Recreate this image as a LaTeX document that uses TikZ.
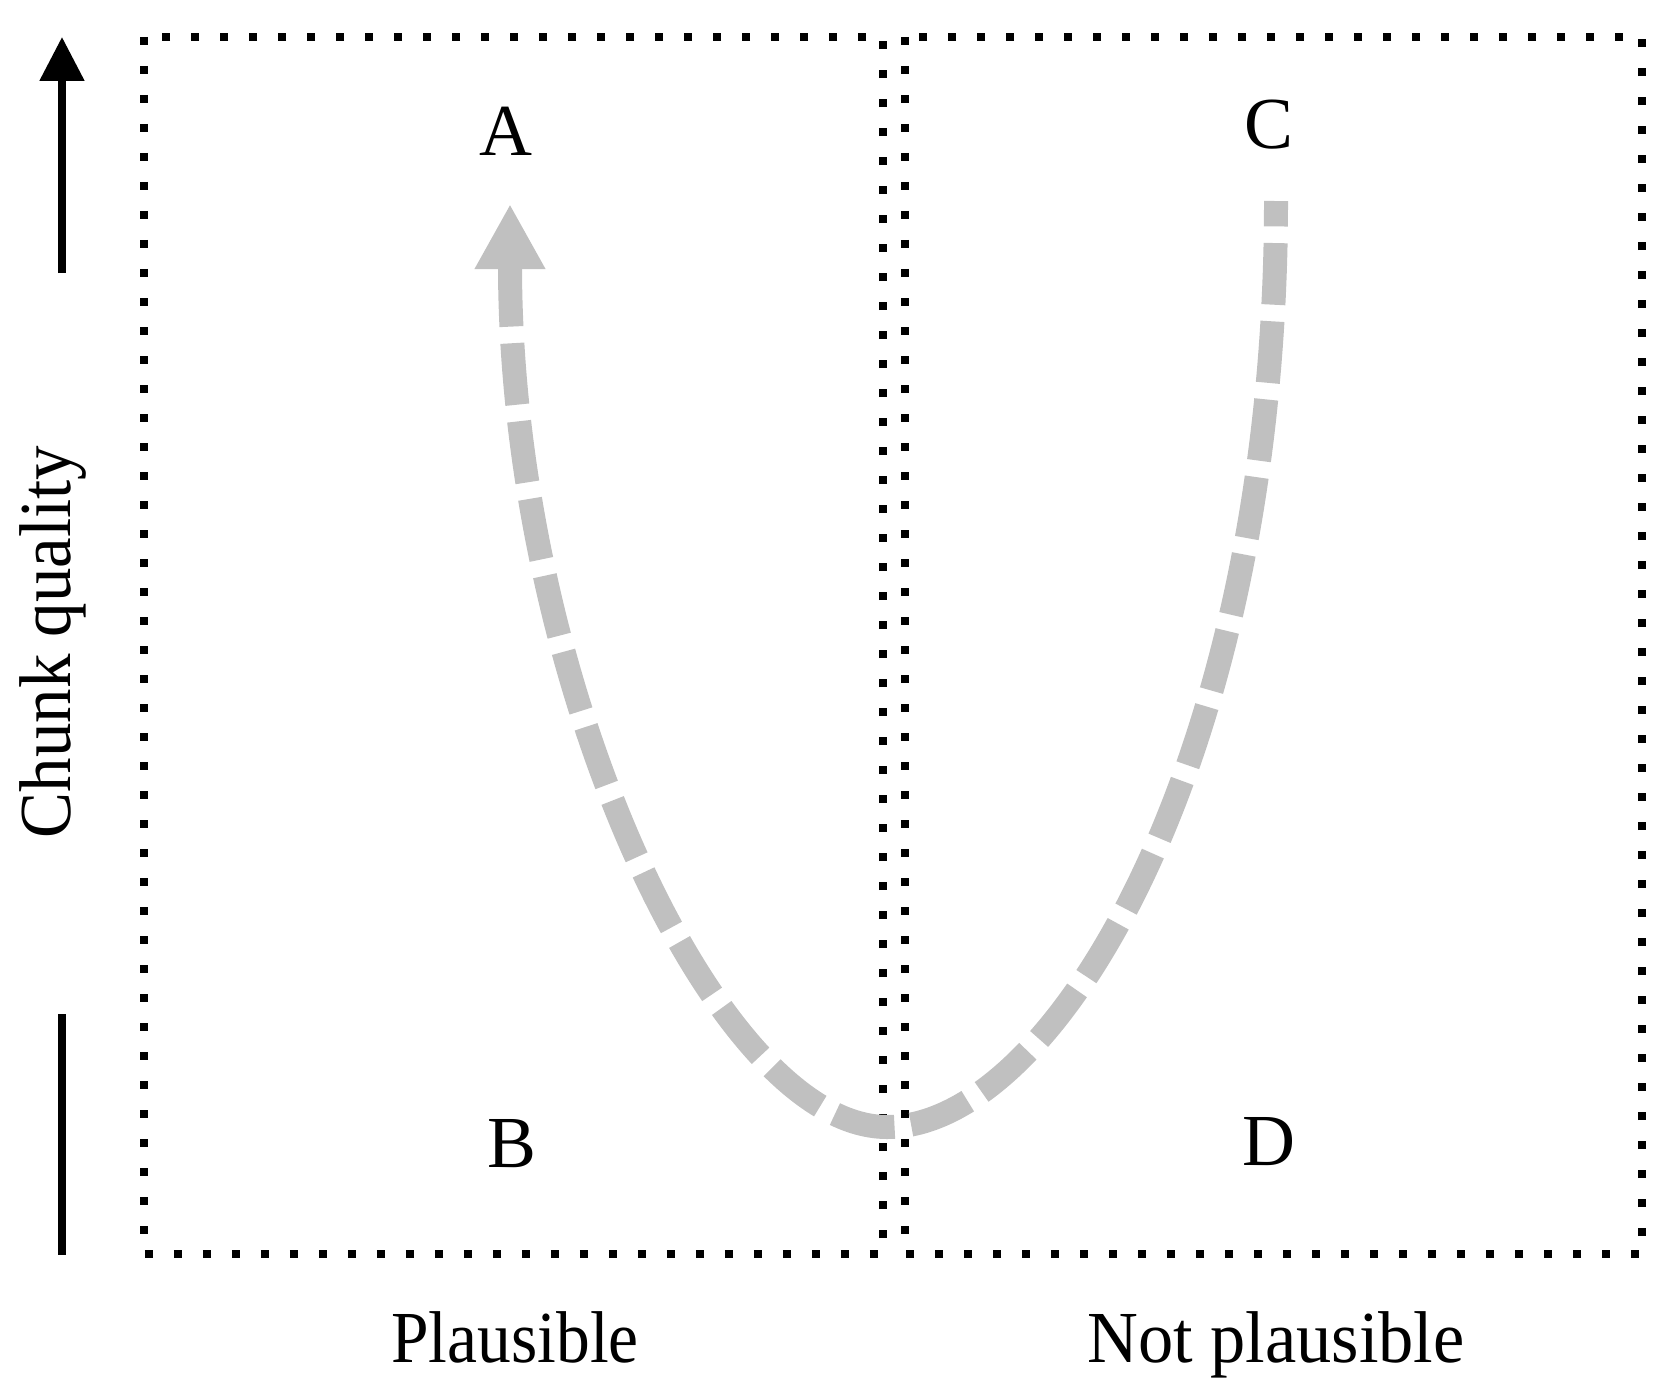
\documentclass[tikz,border=0pt]{standalone}
\usepackage{fontspec}
\setmainfont{Liberation Serif}
\usetikzlibrary{arrows.meta}
\definecolor{curvegray}{RGB}{192,192,192}
\begin{document}
\begin{tikzpicture}[x=0.6pt,y=-0.6pt,
  dotbox/.style={line width=4.8pt, dash pattern=on 4.8pt off 12.6pt},
  lbl/.style={font=\fontsize{44}{48}\selectfont, inner sep=0pt, anchor=base},
  axisline/.style={line width=4.5pt},
  curvepath/.style={curvegray, line width=14.4pt, dash pattern=on 37pt off 10pt}]
\path[use as bounding box] (0,0) rectangle (1672,1395);
% boxes
\draw[dotbox] (144,37) rectangle (883,1254);
\draw[dotbox] (905,37) rectangle (1642,1254);
% axis
\coordinate (ytop) at (62,37);
\coordinate (ybot) at (62,273);
\draw[axisline, -{Triangle[length=26.4pt,width=26pt]}] (ybot) -- (ytop);
\coordinate (lb1) at (62,1014);
\coordinate (lb2) at (62,1255);
\draw[line width=4.8pt] (lb1) -- (lb2);
\node[lbl, rotate=90] (yl) at (70,642) {\scalebox{0.94}[1]{Chunk quality}};
% labels
\node[lbl] (A) at (506,155) {A};
\node[lbl] (B) at (512,1167) {B};
\node[lbl] (C) at (1269,148) {C};
\node[lbl] (D) at (1269,1165) {D};
\node[lbl] (pl) at (515,1362) {\scalebox{0.92}[1]{Plausible}};
\node[lbl] (npl) at (1276,1362) {\scalebox{0.96}[1]{Not plausible}};
% curve
\coordinate (tipA) at (510,204);
\coordinate (bot) at (887,1127);
\coordinate (endC) at (1276,201);
\draw[curvepath, {Triangle[length=39pt,width=39.6pt]}-] (tipA) .. controls (510,684) and (717,1127) .. (bot) .. controls (1057,1127) and (1276,751) .. (endC);
\end{tikzpicture}
\end{document}
